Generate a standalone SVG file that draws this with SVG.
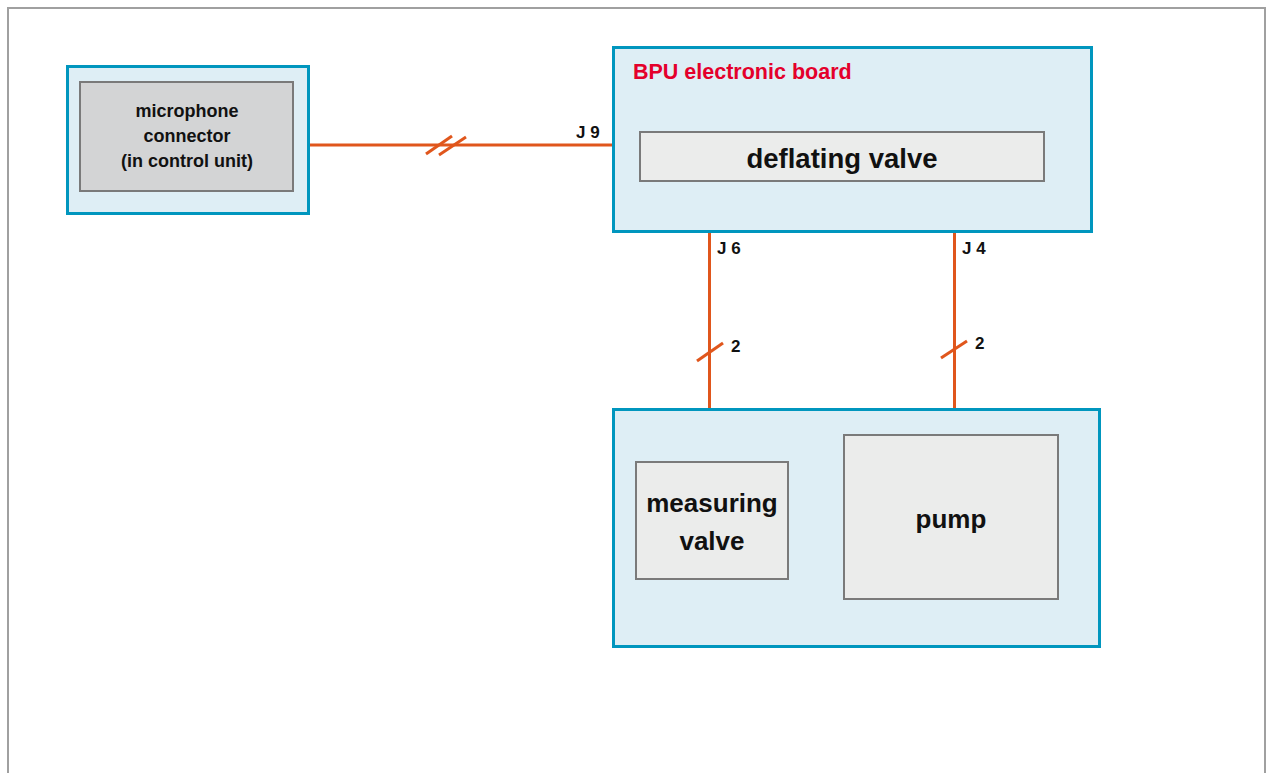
<svg xmlns="http://www.w3.org/2000/svg" width="1269" height="773" viewBox="0 0 1269 773">
<style>
.frame{fill:none;stroke:#a0a0a0;stroke-width:2}
.outer{fill:#deeef5;stroke:#0096be;stroke-width:3}
.inner{fill:#ebeceb;stroke:#7a7a7a;stroke-width:2}
.innerdark{fill:#d3d4d5;stroke:#7a7a7a;stroke-width:2}
.wire{fill:none;stroke:#e0561c;stroke-width:3}
.t{font-family:"Liberation Sans",Arial,sans-serif;font-weight:bold;fill:#111}
.c{text-anchor:middle}
</style>
<rect width="1269" height="773" fill="#ffffff"/>
<path class="frame" d="M8,773 V8 H1265 V773"/>
<g id="mic">
<rect class="outer" x="67.5" y="66.5" width="241" height="147"/>
<rect class="innerdark" x="80" y="82" width="213" height="109"/>
<text class="t c" x="187" y="117" font-size="18">microphone</text>
<text class="t c" x="187" y="142" font-size="18">connector</text>
<text class="t c" x="187" y="167" font-size="18">(in control unit)</text>
</g>
<g id="bpu">
<rect class="outer" x="613.5" y="47.5" width="478" height="184"/>
<text x="633" y="79" font-family="Liberation Sans, Arial, sans-serif" font-weight="bold" font-size="21.5" fill="#e4002b">BPU electronic board</text>
<rect class="inner" x="640" y="132" width="404" height="49"/>
<text class="t c" x="842" y="168" font-size="27.5">deflating valve</text>
</g>
<g id="lower">
<rect class="outer" x="613.5" y="409.5" width="486" height="237"/>
<rect class="inner" x="636" y="462" width="152" height="117"/>
<text class="t c" x="712" y="512" font-size="26">measuring</text>
<text class="t c" x="712" y="550" font-size="26">valve</text>
<rect class="inner" x="844" y="435" width="214" height="164"/>
<text class="t c" x="951" y="528" font-size="26">pump</text>
</g>
<g id="connectors">
<line class="wire" x1="310" y1="145" x2="612" y2="145"/>
<line class="wire" x1="426" y1="154" x2="452" y2="136"/>
<line class="wire" x1="439" y1="155" x2="466" y2="137"/>
<text class="t" x="576" y="138" font-size="17">J 9</text>
<line class="wire" x1="709.5" y1="233" x2="709.5" y2="408"/>
<line class="wire" x1="697" y1="361" x2="723" y2="343"/>
<text class="t" x="717" y="254" font-size="17">J 6</text>
<text class="t" x="731" y="352" font-size="17">2</text>
<line class="wire" x1="954.5" y1="233" x2="954.5" y2="408"/>
<line class="wire" x1="941" y1="358" x2="967" y2="341"/>
<text class="t" x="962" y="254" font-size="17">J 4</text>
<text class="t" x="975" y="349" font-size="17">2</text>
</g>
</svg>
